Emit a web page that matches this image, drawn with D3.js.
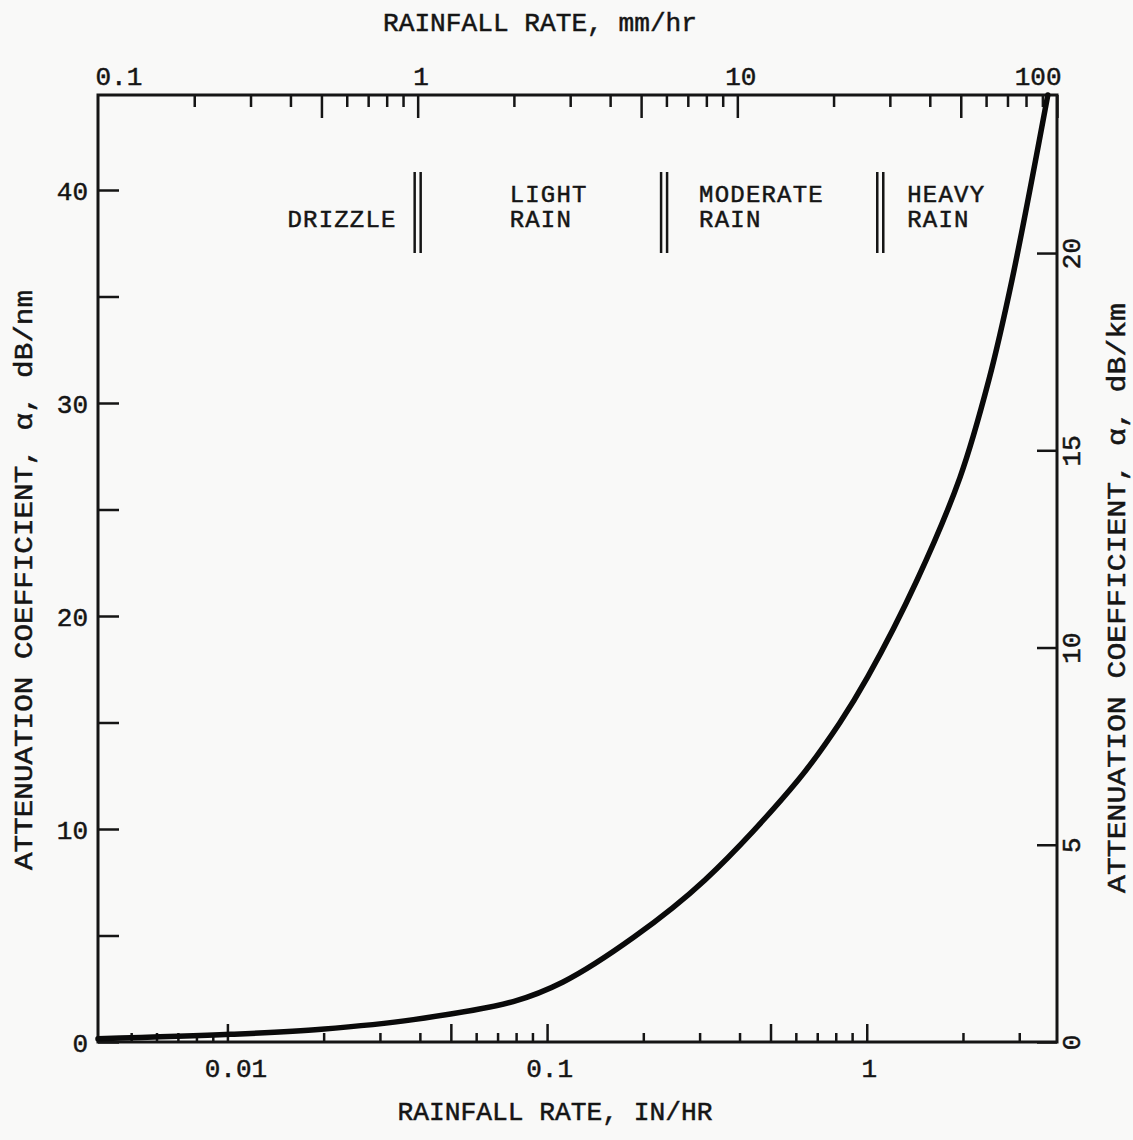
<!DOCTYPE html>
<html>
<head>
<meta charset="utf-8">
<script src="https://cdn.jsdelivr.net/npm/d3@7"></script>
<style>
  body { margin: 0; background: #f9f9f8; }
  svg { display: block; }
  text { font-family: "Liberation Mono", "DejaVu Sans Mono", monospace; fill: #151515; stroke: #151515; stroke-width: 0.5; }
</style>
</head>
<body>
<div id="chart"></div>
<script>
// rainfall rate (mm/hr) and attenuation (dB/nm)
const rainMm = [0.1, 0.26, 0.5, 0.97, 1.99, 2.85, 4.75, 7.92, 15.5, 20.9, 25.6, 36.5, 49.7, 61.2, 72.3, 93.6];
const attenNm = [0.15, 0.36, 0.6, 1.05, 1.9, 2.82, 4.93, 7.61, 12.3, 14.98, 17.15, 21.69, 26.5, 31.08, 35.77, 44.46];

// axis ticks
const topLabelTicks = [0.1, 1, 10, 100];
const topLongTicks = [0.5, 1, 5, 10, 50, 100];
const topShortTicks = [0.2, 0.3, 0.4, 0.6, 0.7, 0.8, 0.9, 2, 3, 4, 6, 7, 8, 9, 20, 30, 40, 60, 70, 80, 90];
const bottomLabelTicks = [0.01, 0.1, 1];
const bottomLongTicks = [0.01, 0.05, 0.1, 0.5, 1];
const bottomShortTicks = [0.005, 0.006, 0.007, 0.008, 0.009, 0.02, 0.03, 0.04, 0.06, 0.07, 0.08, 0.09, 0.2, 0.3, 0.4, 0.6, 0.7, 0.8, 0.9, 2, 3];
const leftTicks = [0, 5, 10, 15, 20, 25, 30, 35, 40];
const leftLabels = [0, 10, 20, 30, 40];
const rightTicks = [0, 5, 10, 15, 20];

// rain categories and their boundaries (mm/hr)
const bandEdgesMm = [1, 5.9, 28];
const bandNames = [["DRIZZLE"], ["LIGHT", "RAIN"], ["MODERATE", "RAIN"], ["HEAVY", "RAIN"]];

const MM_PER_IN = 25.4;
const KM_PER_NM = 1.852;

const width = 1133, height = 1140;
const plot = { left: 98, right: 1057, top: 95, bottom: 1042 };

const svg = d3.select('#chart').append('svg')
  .attr('width', width)
  .attr('height', height);

const x = d3.scaleLog().domain([0.1, 100]).range([plot.left, plot.right]);
const xIn = d3.scaleLog().domain([0.1 / MM_PER_IN, 100 / MM_PER_IN]).range([plot.left, plot.right]);
const yMax = 44.46;
const y = d3.scaleLinear().domain([0, yMax]).range([plot.bottom, plot.top]);
const yKm = d3.scaleLinear().domain([0, yMax / KM_PER_NM]).range([plot.bottom, plot.top]);

const fmt = d => d3.format('~g')(d);

function styleAxis(g) {
  g.select('.domain').remove();
  g.selectAll('.tick line').attr('stroke', '#151515').attr('stroke-width', 2.5);
  g.selectAll('text').style('font-size', '26px');
}

// top axis, mm/hr
svg.append('g').attr('transform', `translate(0,${plot.top})`)
  .call(d3.axisTop(x).tickValues(topShortTicks).tickSize(-12).tickFormat(''))
  .call(styleAxis);
svg.append('g').attr('transform', `translate(0,${plot.top})`)
  .call(d3.axisTop(x).tickValues(topLongTicks).tickSize(-23).tickFormat(''))
  .call(styleAxis);
const topLab = svg.append('g').attr('transform', `translate(0,${plot.top})`)
  .call(d3.axisTop(x).tickValues(topLabelTicks).tickSize(0).tickPadding(10).tickFormat(fmt))
  .call(styleAxis);
topLab.selectAll('text')
  .attr('text-anchor', d => d === 0.1 ? 'start' : d === 100 ? 'end' : 'middle')
  .attr('dx', d => d === 0.1 ? -3 : d === 100 ? 4 : 3);

// bottom axis, in/hr
svg.append('g').attr('transform', `translate(0,${plot.bottom})`)
  .call(d3.axisBottom(xIn).tickValues(bottomShortTicks).tickSize(-9).tickFormat(''))
  .call(styleAxis);
svg.append('g').attr('transform', `translate(0,${plot.bottom})`)
  .call(d3.axisBottom(xIn).tickValues(bottomLongTicks).tickSize(-18).tickFormat(''))
  .call(styleAxis);
svg.append('g').attr('transform', `translate(0,${plot.bottom})`)
  .call(d3.axisBottom(xIn).tickValues(bottomLabelTicks).tickSize(0).tickPadding(17).tickFormat(fmt))
  .call(styleAxis)
  .selectAll('text').attr('dx', d => d === 0.01 ? 8 : 2);

// left axis, dB/nm
svg.append('g').attr('transform', `translate(${plot.left},0)`)
  .call(d3.axisLeft(y).tickValues(leftTicks).tickSize(-21).tickPadding(10)
    .tickFormat(d => leftLabels.includes(d) ? d : ''))
  .call(styleAxis)
  .selectAll('text').attr('dy', '0.35em');

// right axis, dB/km
const rAxis = svg.append('g').attr('transform', `translate(${plot.right},0)`)
  .call(d3.axisRight(yKm).tickValues(rightTicks).tickSize(-20).tickFormat(fmt))
  .call(styleAxis);
rAxis.selectAll('text')
  .attr('x', null).attr('dy', null)
  .attr('text-anchor', 'middle')
  .attr('transform', 'translate(23,0) rotate(-90)');

// frame
svg.append('rect')
  .attr('x', plot.left).attr('y', plot.top)
  .attr('width', plot.right - plot.left).attr('height', plot.bottom - plot.top)
  .attr('fill', 'none').attr('stroke', '#151515').attr('stroke-width', 3);

// band separators (double bars)
const edges = svg.append('g');
bandEdgesMm.forEach(e => {
  [-3, 3].forEach(off => {
    edges.append('line')
      .attr('x1', x(e) + off).attr('x2', x(e) + off)
      .attr('y1', 172).attr('y2', 253)
      .attr('stroke', '#151515').attr('stroke-width', 2.5);
  });
});

// band names
const labelX = [
  { at: x(bandEdgesMm[0]) - 21, anchor: 'end' },
  { at: x(bandEdgesMm[0]) + 92, anchor: 'start' },
  { at: x(bandEdgesMm[1]) + 35, anchor: 'start' },
  { at: x(bandEdgesMm[2]) + 27, anchor: 'start' }
];
bandNames.forEach((lines, i) => {
  lines.forEach((ln, j) => {
    svg.append('text')
      .attr('x', labelX[i].at)
      .attr('y', lines.length === 1 ? 227 : 202 + j * 25)
      .attr('text-anchor', labelX[i].anchor)
      .style('font-size', '24px')
      .style('letter-spacing', '1.2px')
      .text(ln);
  });
});

// curve
const curveData = rainMm.map((r, i) => ({ r: r, a: attenNm[i] }));
svg.append('path')
  .datum(curveData)
  .attr('fill', 'none')
  .attr('stroke', '#0a0a0a')
  .attr('stroke-width', 5.5)
  .attr('stroke-linecap', 'round')
  .attr('d', d3.line()
    .x(d => x(d.r))
    .y(d => y(d.a))
    .curve(d3.curveCatmullRom.alpha(0.5)));

// axis titles
svg.append('text')
  .attr('x', 540).attr('y', 31)
  .attr('text-anchor', 'middle')
  .attr('textLength', 314).attr('lengthAdjust', 'spacingAndGlyphs')
  .style('font-size', '26px')
  .text('RAINFALL RATE, mm/hr');

svg.append('text')
  .attr('x', 555).attr('y', 1120)
  .attr('text-anchor', 'middle')
  .attr('textLength', 315).attr('lengthAdjust', 'spacingAndGlyphs')
  .style('font-size', '26px')
  .text('RAINFALL RATE, IN/HR');

svg.append('text')
  .attr('transform', 'translate(32,580) rotate(-90)')
  .attr('text-anchor', 'middle')
  .attr('textLength', 580).attr('lengthAdjust', 'spacingAndGlyphs')
  .style('font-size', '26px')
  .text('ATTENUATION COEFFICIENT, α, dB/nm');

svg.append('text')
  .attr('transform', 'translate(1125,598) rotate(-90)')
  .attr('text-anchor', 'middle')
  .attr('textLength', 590).attr('lengthAdjust', 'spacingAndGlyphs')
  .style('font-size', '26px')
  .text('ATTENUATION COEFFICIENT, α, dB/km');
</script>
</body>
</html>
